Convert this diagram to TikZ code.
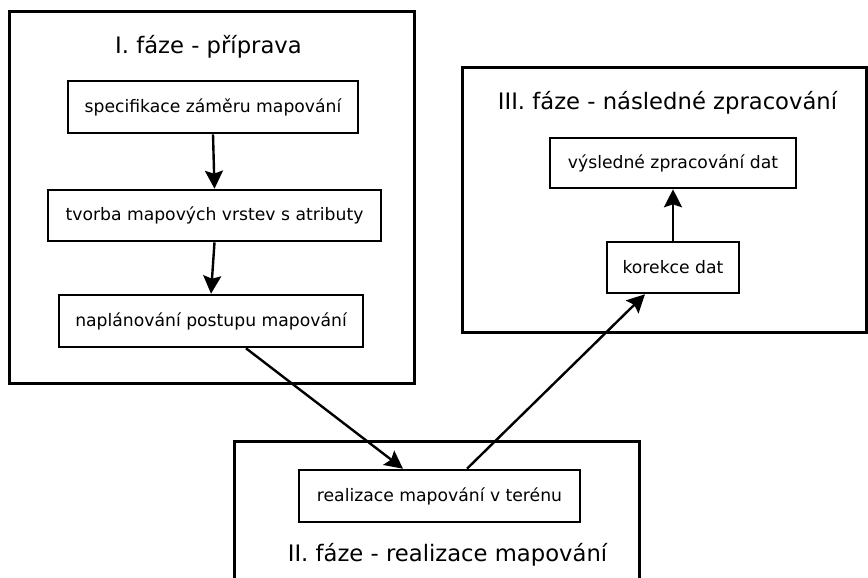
\documentclass[tikz,border=0pt]{standalone}
\usepackage{fontspec}
\setmainfont{DejaVu Sans}
\usetikzlibrary{arrows.meta}
\tikzset{
  phase/.style={draw=black, line width=3pt},
  stepbox/.style={draw=black, line width=2.6pt, inner sep=0pt, font=\fontsize{17.2}{20}\selectfont},
  phasetitle/.style={inner sep=0pt, anchor=base, font=\fontsize{22.7}{26}\selectfont},
  flow/.style={line width=2.4pt, -{Stealth[length=18pt,width=18pt,inset=3pt]}}
}
\begin{document}
\begin{tikzpicture}[x=1pt,y=-1pt]
\useasboundingbox (0,0) rectangle (868,578);
\clip (0,0) rectangle (868,578);
% phase frames
\draw[phase] (9,12) rectangle (414,383);
\draw[phase] (462,68) rectangle (866.5,332);
\draw[phase] (234,441) rectangle (639,600);
% titles
\node[phasetitle] (t1) at (208.5,54) {I. fáze - příprava};
\node[phasetitle] (t3) at (667.5,110) {III. fáze - následné zpracování};
\node[phasetitle] (t2) at (447.5,561) {II. fáze - realizace mapování};
% steps
\node[stepbox, minimum width=290pt, minimum height=52pt] (spec) at (213,107) {specifikace záměru mapování};
\node[stepbox, minimum width=333pt, minimum height=51pt] (tvorba) at (214.5,215.5) {tvorba mapových vrstev s atributy};
\node[stepbox, minimum width=304pt, minimum height=52pt] (napl) at (211,321) {naplánování postupu mapování};
\node[stepbox, minimum width=246pt, minimum height=50pt] (vysl) at (673,163) {výsledné zpracování dat};
\node[stepbox, minimum width=132pt, minimum height=51pt] (kor) at (673,267.5) {korekce dat};
\node[stepbox, minimum width=281pt, minimum height=52pt] (real) at (439.5,496) {realizace mapování v terénu};
% connectors
\draw[flow] (spec.south) -- (tvorba.north);
\draw[flow] (tvorba.south) -- (napl.north);
\draw[flow] ([xshift=35pt]napl.south) -- ([xshift=-36.5pt]real.north);
\draw[flow] ([xshift=27.5pt]real.north) -- ([xshift=-28pt]kor.south);
\draw[flow] (kor.north) -- (vysl.south);
\end{tikzpicture}
\end{document}
